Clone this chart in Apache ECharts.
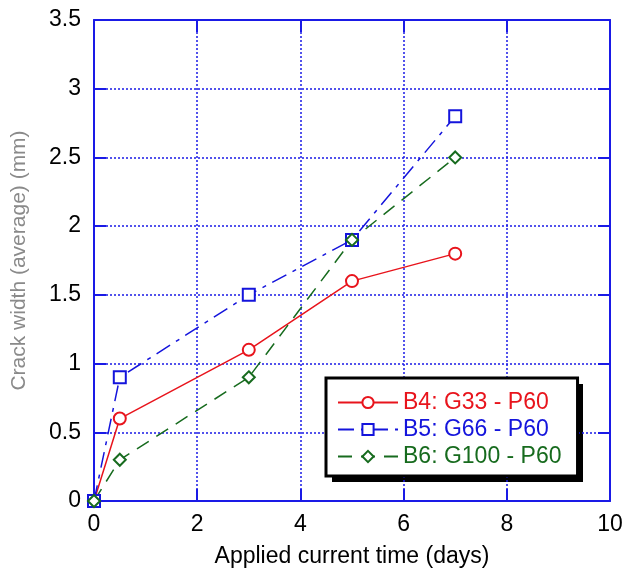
<!DOCTYPE html>
<html>
<head>
<meta charset="utf-8">
<script src="https://cdn.jsdelivr.net/npm/echarts@6/dist/echarts.min.js"></script>
<style>
  html, body { margin: 0; padding: 0; background: #fff; }
  #main { width: 637px; height: 569px; }
</style>
</head>
<body>
<div id="main"></div>
<script>
var chartDom = document.getElementById('main');
var myChart = echarts.init(chartDom);
var option;

// days of applied current
var days = [0, 0.5, 3, 5, 7];
var b4 = [0, 0.6, 1.1, 1.6, 1.8];
var b5 = [0, 0.9, 1.5, 1.9, 2.8];
var b6 = [0, 0.3, 0.9, 1.9, 2.5];
var seriesNames = ['B4: G33 - P60', 'B5: G66 - P60', 'B6: G100 - P60'];
var colors = ['#e8141c', '#1414dc', '#176b1e'];

function pairs(ys) {
  return days.map(function (d, i) { return [d, ys[i]]; });
}

var axisBlue = '#1a1ae6';
var font = 'Liberation Sans, Arial, sans-serif';

function frameAxis(extra) {
  return Object.assign({
    axisLine: { show: true, onZero: false, lineStyle: { color: axisBlue, width: 2 } },
    axisTick: { show: true, inside: true, length: 12, lineStyle: { color: axisBlue, width: 2 } },
    axisLabel: { show: false },
    splitLine: { show: false }
  }, extra);
}

option = {
  backgroundColor: '#fff',
  animation: false,
  textStyle: { fontFamily: font },
  grid: { left: 94, right: 27, top: 20, bottom: 68, containLabel: false, outerBoundsMode: 'none' },
  // drop shadow behind the legend box
  graphic: [{
    type: 'rect', left: 332, top: 384, z: 0,
    shape: { width: 251, height: 98 },
    style: { fill: '#000' }
  }],
  legend: {
    left: 326,
    top: 378,
    orient: 'vertical',
    itemWidth: 60,
    itemHeight: 14,
    itemGap: 4,
    padding: [13, 16, 8, 11],
    borderColor: '#000',
    borderWidth: 3,
    backgroundColor: '#fff',
    z: 10,
    textStyle: { fontSize: 23, fontFamily: font, lineHeight: 22 },
    data: seriesNames.map(function (n, i) {
      return { name: n, textStyle: { color: colors[i] } };
    })
  },
  xAxis: [
    {
      type: 'value', min: 0, max: 10, interval: 2,
      name: 'Applied current time (days)',
      nameLocation: 'middle', nameGap: 44,
      nameTextStyle: { color: '#000', fontSize: 23, fontFamily: font },
      axisLine: { show: true, onZero: false, lineStyle: { color: axisBlue, width: 2 } },
      axisTick: { show: true, inside: true, length: 12, lineStyle: { color: axisBlue, width: 2 } },
      axisLabel: { color: '#000', fontSize: 23, margin: 12, fontFamily: font },
      splitLine: { show: true, lineStyle: { color: axisBlue, type: [2, 2], width: 1.5 } }
    },
    frameAxis({ type: 'value', position: 'top', min: 0, max: 10, interval: 2 })
  ],
  yAxis: [
    {
      type: 'value', min: 0, max: 3.5, interval: 0.5,
      name: 'Crack width (average) (mm)',
      nameLocation: 'middle', nameGap: 64,
      nameTextStyle: { color: '#8a8a8a', fontSize: 21, fontFamily: font },
      axisLine: { show: true, onZero: false, lineStyle: { color: axisBlue, width: 2 } },
      axisTick: { show: true, inside: true, length: 12, lineStyle: { color: axisBlue, width: 2 } },
      axisLabel: { color: '#000', fontSize: 23, margin: 13, fontFamily: font },
      splitLine: { show: true, lineStyle: { color: axisBlue, type: [2, 2], width: 1.5 } }
    },
    frameAxis({ type: 'value', position: 'right', min: 0, max: 3.5, interval: 0.5 })
  ],
  series: [
    {
      name: seriesNames[0], type: 'line', data: pairs(b4),
      symbol: 'emptyCircle', symbolSize: 12,
      itemStyle: { color: colors[0], borderWidth: 1.5 },
      lineStyle: { color: colors[0], width: 1.5, type: 'solid' }
    },
    {
      name: seriesNames[1], type: 'line', data: pairs(b5),
      symbol: 'emptyRect', symbolSize: 12,
      itemStyle: { color: colors[1], borderWidth: 1.5 },
      lineStyle: { color: colors[1], width: 1.5, type: [16, 7, 4, 7] }
    },
    {
      name: seriesNames[2], type: 'line', data: pairs(b6),
      symbol: 'emptyDiamond', symbolSize: 12,
      itemStyle: { color: colors[2], borderWidth: 1.5 },
      lineStyle: { color: colors[2], width: 1.5, type: [14, 9] }
    }
  ]
};

option && myChart.setOption(option);
</script>
</body>
</html>
